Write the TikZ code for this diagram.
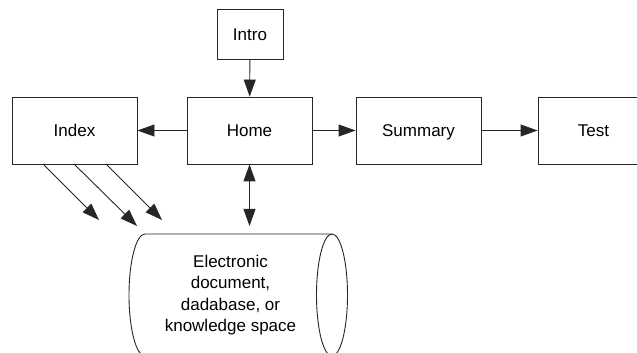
\documentclass[tikz,border=0pt]{standalone}
\usepackage{fontspec}
\setmainfont{Liberation Sans}
\usetikzlibrary{arrows.meta}
\begin{document}
\begin{tikzpicture}[x=1pt,y=1pt,
  box/.style={draw=black!85, line width=0.9pt, minimum width=125pt, minimum height=67pt, inner sep=0pt, text height=12.2pt, text depth=0pt, font=\fontsize{17}{21}\selectfont},
  conn/.style={draw=black!85, line width=0.9pt, -{Triangle[length=17pt,width=12pt]}},
  dconn/.style={draw=black!85, line width=0.9pt, {Triangle[length=17pt,width=12pt]}-{Triangle[length=17pt,width=12pt]}}]
\useasboundingbox (0,0) rectangle (637,353);
\clip (0,0) rectangle (637,353);
\fill[white] (0,0) rectangle (637,353);
\node[box, minimum width=66pt, minimum height=50pt] (intro) at (250,319) {Intro};
\node[box] (home) at (249.5,222.5) {Home};
\node[box] (index) at (74.5,222.5) {Index};
\node[box] (summary) at (418.5,222.5) {Summary};
\node[box, minimum width=111pt] (test) at (593.5,222.5) {Test};
% database cylinder
\draw[black!85, line width=0.9pt] (332,119) -- (145,119) arc[start angle=90, end angle=270, x radius=16, y radius=61] -- (332,-3);
\draw[black!85, line width=0.9pt] (332,58) ellipse[x radius=15.5, y radius=61];
\node[align=center, font=\fontsize{17}{21.3}\selectfont, inner sep=0pt] (db) at (230.5,58) {Electronic\\document,\\dadabase, or\\knowledge space};
\coordinate (dbtop) at (249.5,127);
\coordinate (i1s) at (43,189);
\coordinate (i2s) at (74,189);
\coordinate (i3s) at (106,189);
\coordinate (i1e) at (99,133);
\coordinate (i2e) at (137,127);
\coordinate (i3e) at (162,133);
\draw[conn] (intro) -- (home);
\draw[conn] (home) -- (index);
\draw[conn] (home) -- (summary);
\draw[conn] (summary) -- (test);
\draw[dconn] (home.south) -- (dbtop);
\draw[conn] (i1s) -- (i1e);
\draw[conn] (i2s) -- (i2e);
\draw[conn] (i3s) -- (i3e);
\end{tikzpicture}
\end{document}
